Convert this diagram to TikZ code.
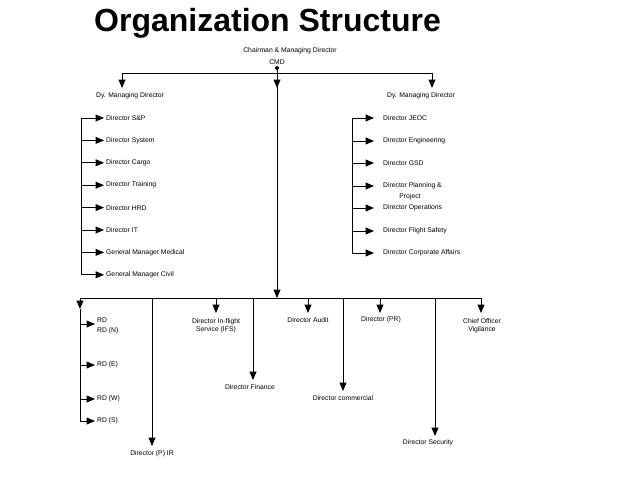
\documentclass[tikz,border=0pt]{standalone}
\usepackage{fontspec}
\setmainfont{Liberation Sans}
\usetikzlibrary{arrows,calc,positioning}
\tikzset{
        lbl/.style = {inner sep=1pt, font=\fontsize{6.8}{8}\selectfont, align=center},
        lblw/.style = {lbl, anchor=west},
        line/.style = {draw, line width=0.9pt},
        arrow/.style = {draw, line width=0.9pt, -triangle 45},
    }
\begin{document}
\begin{tikzpicture}[x=1pt,y=-1pt]
    \useasboundingbox (0,0) rectangle (638,479);
    \node[anchor=west, font=\fontsize{32}{36}\bfseries, inner sep=0pt] (title) at (94,23) {Organization Structure};

    % top
    \node[lbl] (cmd1) at (290,51) {Chairman \& Managing Director};
    \node[lbl] (cmd) at (277,62) {CMD};
    \coordinate (top) at (277,68);
    \fill (top) circle (2pt);
    \coordinate (tl) at (122,73);
    \coordinate (tr) at (432,73);
    \draw[line] (tl) -- (tr);
    \node[lbl] (dmdl) at (130,96) {Dy. Managing Director};
    \node[lbl] (dmdr) at (421,96) {Dy. Managing Director};
    \draw[arrow] (tl) -- (122,88);
    \draw[arrow] (tr) -- (432,88);
    \coordinate (mid) at (277,298);
    \draw[arrow] (top) -- (277,88);
    \draw[arrow] (277,86) -- (mid);

    % left list
    \coordinate (ll) at (81,118);
    \foreach \t [count=\i from 0] in {Director S\&P, Director System, Director Cargo, Director Training,
        Director HRD, Director IT, General Manager Medical, General Manager Civil} {
        \node[lblw] (l\i) at (105,118+22.4*\i) {\t};
        \draw[arrow] (81,118+22.4*\i) -- (104,118+22.4*\i);
    }
    \draw[line] (ll) -- (81,275);

    % right list
    \foreach \t/\y [count=\i from 0] in {Director JEOC/118, Director Engineering/141, Director GSD/163,
        Director Planning \&/186, Director Operations/208, Director Flight Safety/231,
        Director Corporate Affairs/253} {
        \node[lblw] (r\i) at (382,\y) {\t};
        \draw[arrow] (352,\y) -- (374,\y);
    }
    \node[lbl] (r3b) at (410,197) {Project};
    \draw[line] (352,118) -- (352,253);

    % bottom
    \coordinate (bl) at (80,298);
    \coordinate (br) at (481,298);
    \draw[line] (bl) -- (br);
    \draw[arrow] (bl) -- (80,309);
    \draw[line] (80,309) -- (80,421);
    \node[lblw] (rd) at (96,320) {RD};
    \node[lblw] (rdn) at (96,331) {RD (N)};
    \node[lblw] (rde) at (96,365) {RD (E)};
    \node[lblw] (rdw) at (96,399) {RD (W)};
    \node[lblw] (rds) at (96,421) {RD (S)};
    \foreach \y in {324, 365, 399, 421}
        \draw[arrow] (80,\y) -- (95,\y);

    \node[lbl] (pir) at (152,454) {Director (P) IR};
    \node[lbl] (ifs) at (216,326) {Director In-flight\\Service (IFS)};
    \node[lbl] (fin) at (250,387) {Director Finance};
    \node[lbl] (aud) at (308,320) {Director Audit};
    \node[lbl] (com) at (343,398) {Director commercial};
    \node[lbl] (pr) at (381,320) {Director (PR)};
    \node[lbl] (sec) at (428,443) {Director Security};
    \node[lbl] (cov) at (482,326) {Chief Officer\\Vigilance};

    \draw[arrow] (152,298) -- (152,446);
    \draw[arrow] (216,298) -- (216,313);
    \draw[arrow] (253,298) -- (253,380);
    \draw[arrow] (308,298) -- (308,313);
    \draw[arrow] (343,298) -- (343,391);
    \draw[arrow] (380,298) -- (380,313);
    \draw[arrow] (435,298) -- (435,436);
    \draw[arrow] (481,298) -- (481,313);
\end{tikzpicture}
\end{document}
